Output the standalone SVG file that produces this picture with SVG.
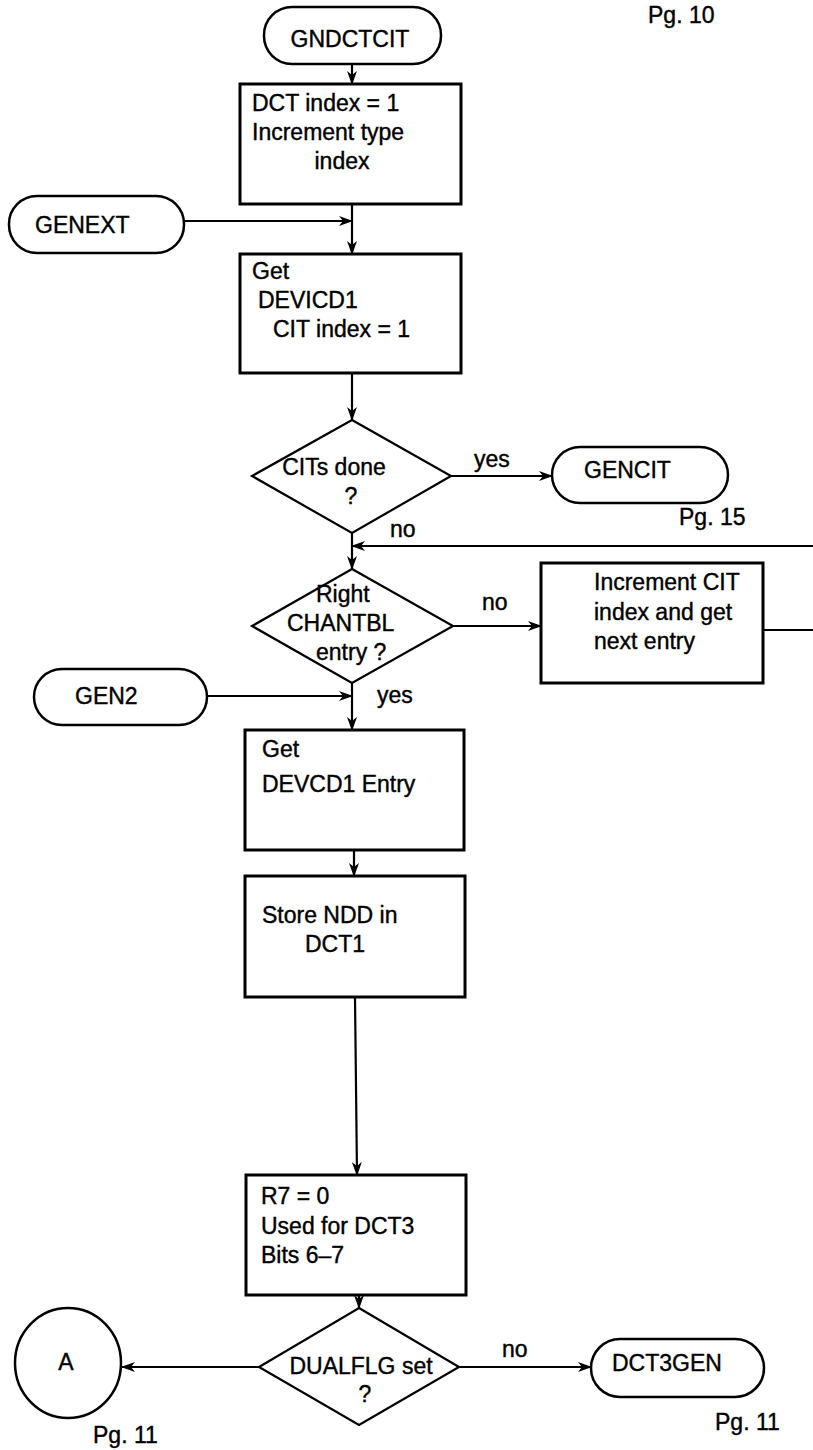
<svg xmlns="http://www.w3.org/2000/svg" width="813" height="1450" viewBox="0 0 813 1450">
<defs>
<marker id="ah" markerUnits="userSpaceOnUse" markerWidth="14" markerHeight="10" refX="13" refY="5" orient="auto">
<path d="M0,0 L14,5 L0,10 L4,5 Z" fill="#000"/>
</marker>
<style>
.t{font-family:"Liberation Sans",Arial,sans-serif;font-size:23px;fill:#000;stroke:#000;stroke-width:0.4}
.box{fill:#fff;stroke:#000;stroke-width:3}
.term{fill:#fff;stroke:#000;stroke-width:2.5}
.dia{fill:#fff;stroke:#000;stroke-width:2.2}
.ln{fill:none;stroke:#000;stroke-width:2.2}
.arr{fill:none;stroke:#000;stroke-width:2.2;marker-end:url(#ah)}
</style>
</defs>
<rect width="813" height="1450" fill="#fff"/>

<g id="connectors">
<line class="arr" x1="352" y1="64" x2="352" y2="84"/>
<line class="ln" x1="352" y1="204" x2="352" y2="221"/>
<line class="arr" x1="352" y1="221" x2="352" y2="254"/>
<line class="arr" x1="184" y1="221" x2="352" y2="221"/>
<line class="arr" x1="352" y1="373" x2="352" y2="420"/>
<line class="arr" x1="451" y1="476" x2="552" y2="476"/>
<line class="ln" x1="352" y1="533" x2="352" y2="546"/>
<line class="arr" x1="352" y1="546" x2="352" y2="569"/>
<line class="arr" x1="813" y1="546" x2="352" y2="546"/>
<line class="arr" x1="453" y1="626" x2="541" y2="626"/>
<line class="ln" x1="763" y1="630" x2="813" y2="630"/>
<line class="ln" x1="352" y1="683" x2="352" y2="696"/>
<line class="arr" x1="352" y1="696" x2="352" y2="730"/>
<line class="arr" x1="207" y1="696" x2="352" y2="696"/>
<line class="arr" x1="354" y1="850" x2="354" y2="876"/>
<line class="arr" x1="355" y1="997" x2="357" y2="1175"/>
<line class="arr" x1="359" y1="1295" x2="359" y2="1308"/>
<line class="arr" x1="259" y1="1367" x2="122" y2="1367"/>
<line class="arr" x1="459" y1="1367" x2="591" y2="1367"/>
<text class="t" x="474" y="467">yes</text>
<text class="t" x="390" y="537">no</text>
<text class="t" x="482" y="610">no</text>
<text class="t" x="377" y="703">yes</text>
<text class="t" x="502" y="1357">no</text>
</g>

<g id="pg10"><text class="t" x="648" y="23">Pg. 10</text></g>

<g id="gndctcit">
<rect class="term" x="264" y="7" width="177" height="57" rx="28"/>
<text class="t" x="350" y="47" text-anchor="middle">GNDCTCIT</text>
</g>

<g id="dctindex">
<rect class="box" x="240" y="84" width="221" height="120"/>
<text class="t" x="252" y="111">DCT index = 1</text>
<text class="t" x="252" y="140">Increment type</text>
<text class="t" x="342" y="169" text-anchor="middle">index</text>
</g>

<g id="genext">
<rect class="term" x="9" y="196" width="175" height="57" rx="28"/>
<text class="t" x="35" y="233">GENEXT</text>
</g>

<g id="getdevicd1">
<rect class="box" x="240" y="254" width="221" height="119"/>
<text class="t" x="252" y="279">Get</text>
<text class="t" x="258" y="308">DEVICD1</text>
<text class="t" x="273" y="337">CIT index = 1</text>
</g>

<g id="citsdone">
<polygon class="dia" points="352,420 451,476 352,533 252,476"/>
<text class="t" x="334" y="475" text-anchor="middle">CITs done</text>
<text class="t" x="351" y="504" text-anchor="middle">?</text>
</g>

<g id="gencit">
<rect class="term" x="552" y="447" width="176" height="56" rx="28"/>
<text class="t" x="584" y="478">GENCIT</text>
<text class="t" x="679" y="525">Pg. 15</text>
</g>

<g id="rightchantbl">
<polygon class="dia" points="352,569 453,626 352,683 252,626"/>
<text class="t" x="316" y="602">Right</text>
<text class="t" x="287" y="631">CHANTBL</text>
<text class="t" x="316" y="660">entry ?</text>
</g>

<g id="incrementcit">
<rect class="box" x="541" y="563" width="222" height="120"/>
<text class="t" x="594" y="590">Increment CIT</text>
<text class="t" x="594" y="620">index and get</text>
<text class="t" x="594" y="649">next entry</text>
</g>

<g id="gen2">
<rect class="term" x="34" y="669" width="173" height="56" rx="28"/>
<text class="t" x="75" y="704">GEN2</text>
</g>

<g id="getdevcd1">
<rect class="box" x="245" y="730" width="219" height="120"/>
<text class="t" x="262" y="757">Get</text>
<text class="t" x="262" y="792">DEVCD1 Entry</text>
</g>

<g id="storendd">
<rect class="box" x="245" y="876" width="220" height="121"/>
<text class="t" x="262" y="923">Store NDD in</text>
<text class="t" x="305" y="952">DCT1</text>
</g>

<g id="r7">
<rect class="box" x="246" y="1175" width="220" height="120"/>
<text class="t" x="261" y="1204">R7 = 0</text>
<text class="t" x="261" y="1234">Used for DCT3</text>
<text class="t" x="261" y="1263">Bits 6–7</text>
</g>

<g id="dualflg">
<polygon class="dia" points="359,1308 459,1367 359,1425 259,1367"/>
<text class="t" x="361" y="1374" text-anchor="middle">DUALFLG set</text>
<text class="t" x="365" y="1402" text-anchor="middle">?</text>
</g>

<g id="connA">
<ellipse class="term" cx="68" cy="1363" rx="53" ry="55"/>
<text class="t" x="66" y="1370" text-anchor="middle">A</text>
<text class="t" x="93" y="1443">Pg.  11</text>
</g>

<g id="dct3gen">
<rect class="term" x="591" y="1339" width="173" height="58" rx="29"/>
<text class="t" x="612" y="1371">DCT3GEN</text>
<text class="t" x="715" y="1430">Pg. 11</text>
</g>
</svg>
